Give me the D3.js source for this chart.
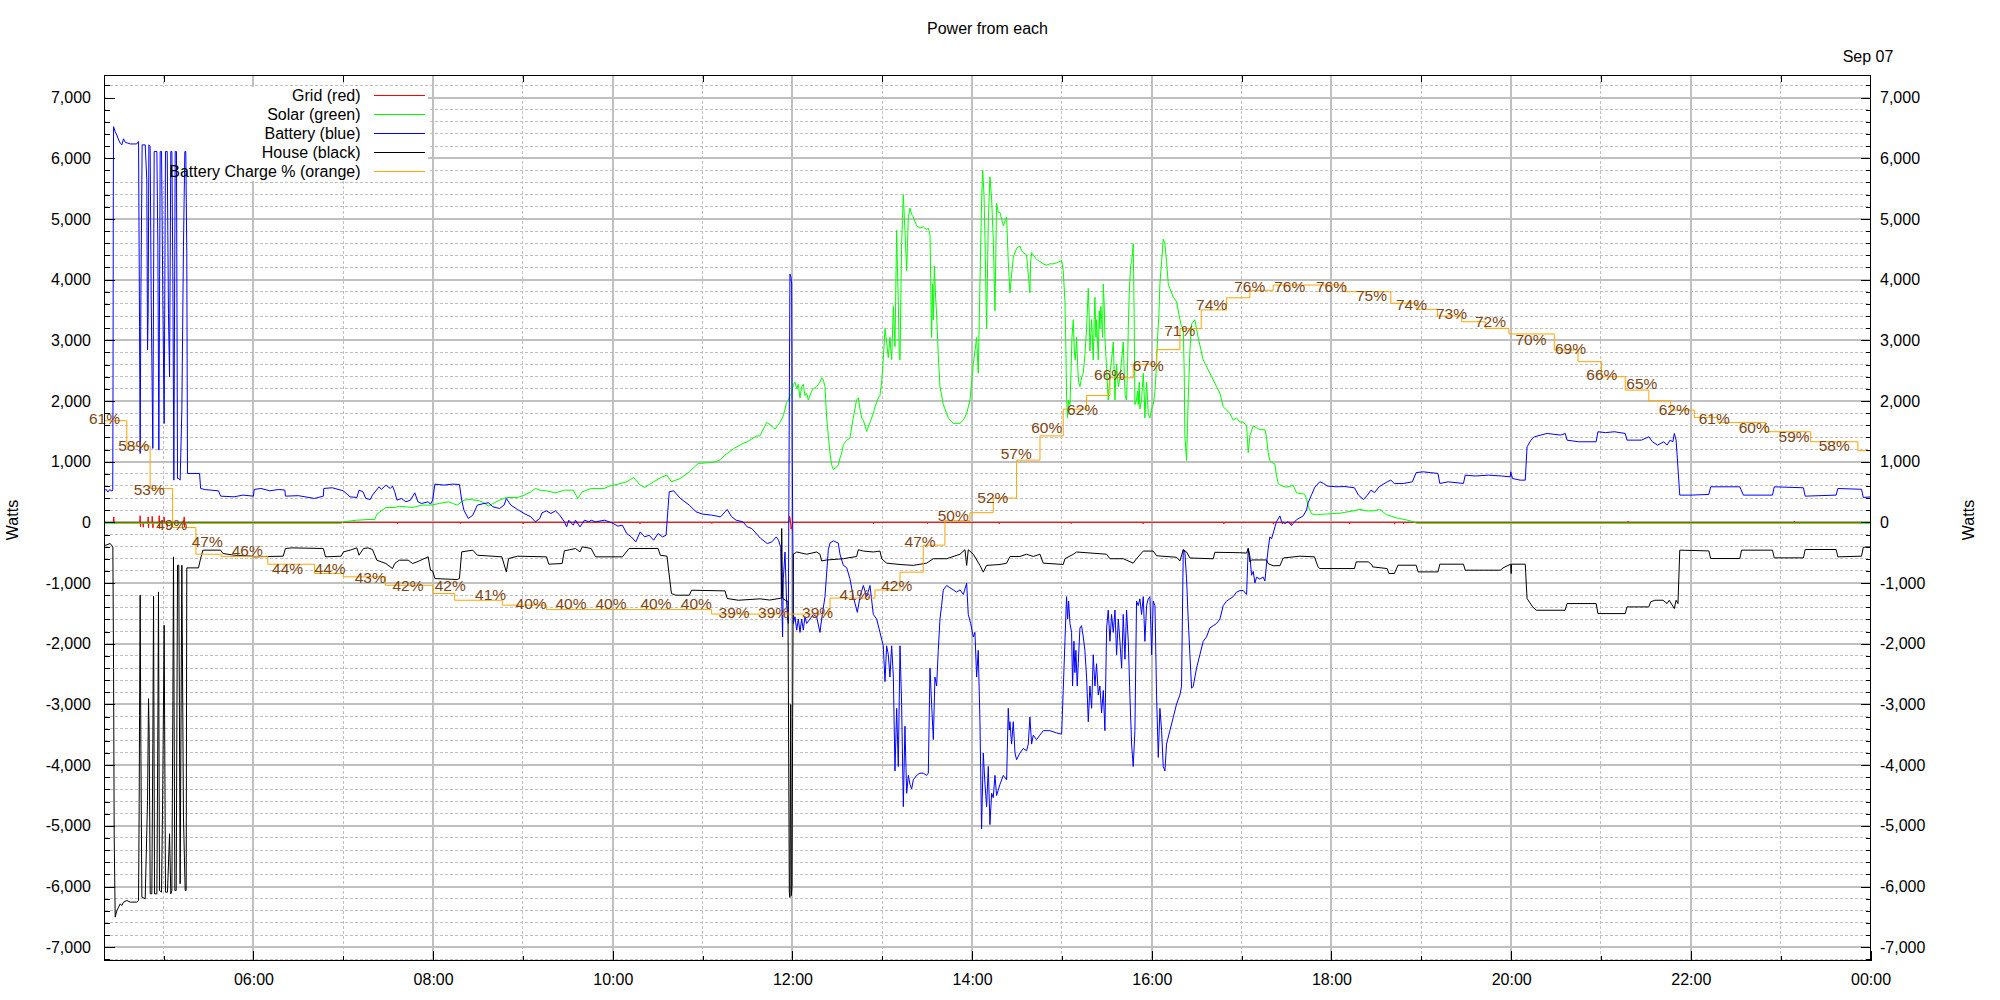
<!DOCTYPE html>
<html><head><meta charset="utf-8">
<script src="https://cdn.jsdelivr.net/npm/d3@7"></script>
<style>
html,body{margin:0;padding:0;background:#fff;}
svg{display:block;font-family:"Liberation Sans",Arial,Helvetica,sans-serif;}
</style></head><body>
<svg id="chart" width="2000" height="1000"></svg>
<script>
// ---------------- DATA (time in decimal hours, power in watts) ----------------
const chartTitle = "Power from each";
const dateLabel = "Sep 07";
const yAxisLabel = "Watts";
const seriesNames = ["Grid (red)", "Solar (green)", "Battery (blue)", "House (black)", "Battery Charge % (orange)"];
const xTickHours = [6, 8, 10, 12, 14, 16, 18, 20, 22, 24];
const xMinorHours = [5, 7, 9, 11, 13, 15, 17, 19, 21, 23];
const yTickValues = d3.range(-7000, 7001, 1000);
const yMinorValues = d3.range(-7200, 7201, 200).filter(v => v % 1000 !== 0);

const gridData = [[4.342,0],[4.44,0],[4.445,90],[4.45,0],[4.735,0],[4.739,110],[4.743,-70],[4.747,0],[4.77,0],[4.773,-80],[4.777,0],[4.825,0],[4.828,90],[4.832,-90],[4.836,0],[4.87,0],[4.873,100],[4.877,0],[4.881,-90],[4.886,0],[4.948,0],[4.951,110],[4.955,-100],[4.959,0],[5.003,0],[5.006,90],[5.01,0],[5.037,0],[5.04,-80],[5.044,0],[5.226,0],[5.229,90],[5.233,-80],[5.237,0],[7.6,0],[7.603,-25],[7.606,0],[8.3,0],[8.303,-20],[8.306,0],[9.0,0],[9.003,-25],[9.006,0],[9.6,0],[9.603,-20],[9.606,0],[10.3,0],[10.303,-25],[10.306,0],[11.1,0],[11.103,-20],[11.106,0],[11.96,0],[11.968,102],[11.975,60],[11.985,-114],[11.995,-60],[12.0,0],[12.9,0],[12.903,-25],[12.906,0],[13.5,0],[13.503,-20],[13.506,0],[14.3,0],[14.303,-25],[14.306,0],[15.1,0],[15.103,-20],[15.106,0],[15.9,0],[15.903,-25],[15.906,0],[16.8,0],[16.803,-25],[16.806,0],[17.35,0],[17.353,-30],[17.356,0],[17.45,0],[17.453,-25],[17.456,0],[17.55,0],[17.553,-30],[17.556,0],[18.2,0],[18.203,-25],[18.206,0],[18.7,0],[18.703,-30],[18.706,0],[18.8,0],[18.803,-25],[18.806,0],[21.3,0],[21.303,20],[21.306,0],[23.15,0],[23.153,20],[23.156,0],[24,0]];

const solarData = [[4.342,-16],[6.977,-16],[7.002,9],[7.151,36],[7.275,47],[7.35,47],[7.374,135],[7.474,245],[7.573,245],[7.623,267],[7.772,245],[7.871,284],[7.97,284],[8.07,311],[8.169,339],[8.268,284],[8.343,366],[8.417,377],[8.517,355],[8.566,322],[8.616,267],[8.666,311],[8.74,366],[8.79,394],[8.815,410],[8.939,410],[9.014,449],[9.088,503],[9.138,559],[9.187,531],[9.262,520],[9.361,487],[9.461,531],[9.56,531],[9.61,394],[9.66,503],[9.759,559],[9.908,559],[9.958,597],[10.057,630],[10.156,669],[10.231,740],[10.305,614],[10.355,575],[10.454,669],[10.554,751],[10.603,779],[10.653,669],[10.752,724],[10.852,833],[10.951,971],[11.05,982],[11.15,998],[11.2,1037],[11.249,1108],[11.348,1218],[11.448,1300],[11.497,1328],[11.597,1421],[11.639,1426],[11.676,1537],[11.713,1647],[11.75,1610],[11.787,1560],[11.806,1537],[11.824,1573],[11.861,1647],[11.898,1757],[11.917,1868],[11.935,1978],[11.954,2015],[11.972,2089],[11.991,2126],[12.01,2273],[12.028,2310],[12.047,2200],[12.065,2273],[12.084,2052],[12.102,2236],[12.121,2273],[12.139,2089],[12.158,2126],[12.176,2015],[12.195,2089],[12.213,2163],[12.232,2200],[12.269,2236],[12.306,2310],[12.325,2384],[12.343,2347],[12.362,2236],[12.381,1720],[12.399,1426],[12.418,1132],[12.436,948],[12.455,874],[12.492,911],[12.51,948],[12.529,1058],[12.547,1132],[12.566,1279],[12.584,1316],[12.603,1352],[12.64,1389],[12.659,1573],[12.677,1720],[12.714,2015],[12.733,2052],[12.752,1868],[12.77,1720],[12.789,1684],[12.826,1500],[12.844,1573],[12.863,1647],[12.9,1794],[12.919,1905],[12.937,1978],[12.956,2052],[12.974,2089],[12.993,2310],[13.011,2678],[13.03,3193],[13.048,2972],[13.067,2715],[13.085,3046],[13.104,2678],[13.123,3561],[13.141,2899],[13.16,4812],[13.167,4297],[13.178,3635],[13.189,2752],[13.197,2678],[13.215,4591],[13.234,5401],[13.252,4812],[13.271,4150],[13.29,5033],[13.308,5180],[13.327,5070],[13.345,5033],[13.382,4886],[13.419,4849],[13.456,4870],[13.493,4820],[13.512,4849],[13.531,4739],[13.549,3046],[13.56,3929],[13.568,3340],[13.579,4224],[13.594,3700],[13.605,3414],[13.623,2752],[13.642,2236],[13.679,1941],[13.735,1720],[13.79,1632],[13.865,1632],[13.902,1684],[13.939,1794],[13.976,2015],[13.994,2310],[14.013,2605],[14.031,2826],[14.05,3046],[14.068,2458],[14.087,3929],[14.105,5254],[14.117,5806],[14.132,5401],[14.143,4665],[14.161,3193],[14.18,4959],[14.198,5695],[14.217,5328],[14.235,4665],[14.254,3487],[14.272,5254],[14.291,5107],[14.31,5107],[14.347,4886],[14.384,5033],[14.402,4297],[14.421,3782],[14.439,4077],[14.458,4370],[14.495,4518],[14.532,4554],[14.55,4480],[14.569,4444],[14.606,4407],[14.643,3782],[14.651,4297],[14.662,4444],[14.68,4407],[14.717,4333],[14.754,4297],[14.792,4260],[14.829,4238],[14.866,4260],[14.903,4260],[14.94,4275],[14.977,4300],[14.996,4315],[15.014,4150],[15.033,3635],[15.044,2825],[15.051,2089],[15.062,1720],[15.074,2015],[15.089,1941],[15.1,2458],[15.111,3046],[15.126,3340],[15.137,2825],[15.148,2678],[15.163,3046],[15.174,2605],[15.185,2310],[15.2,2236],[15.218,2384],[15.237,2458],[15.255,2752],[15.274,3193],[15.293,3855],[15.304,3340],[15.311,2826],[15.33,3340],[15.348,2678],[15.359,3340],[15.367,3708],[15.378,3046],[15.385,3340],[15.396,2972],[15.404,2678],[15.415,3487],[15.422,3193],[15.433,3561],[15.441,3340],[15.452,3046],[15.46,3929],[15.471,3561],[15.478,3046],[15.489,2752],[15.497,2531],[15.515,2015],[15.534,2458],[15.552,2678],[15.571,2972],[15.582,2458],[15.59,2015],[15.601,2458],[15.608,2605],[15.627,2236],[15.645,2384],[15.664,2678],[15.682,2972],[15.693,2458],[15.704,2089],[15.719,2015],[15.73,2605],[15.738,3193],[15.749,3782],[15.764,4224],[15.775,4297],[15.786,4444],[15.793,4591],[15.804,3340],[15.812,1941],[15.83,2015],[15.841,2163],[15.849,1941],[15.86,2310],[15.867,1868],[15.886,2015],[15.905,2458],[15.916,2089],[15.923,1720],[15.942,2310],[15.953,2015],[15.96,1794],[15.979,1720],[15.998,1868],[16.016,1941],[16.035,2163],[16.053,2605],[16.064,3046],[16.079,3414],[16.09,3929],[16.101,4150],[16.109,4297],[16.12,4518],[16.127,4665],[16.146,4591],[16.164,4297],[16.183,3929],[16.201,3855],[16.239,3708],[16.276,3635],[16.313,3340],[16.331,3230],[16.35,3193],[16.361,2458],[16.368,1426],[16.387,1021],[16.405,2015],[16.424,2826],[16.443,3269],[16.479,3340],[16.516,3046],[16.572,2678],[16.646,2458],[16.721,2236],[16.758,2126],[16.795,1905],[16.869,1794],[16.906,1684],[16.943,1720],[16.98,1653],[17.018,1653],[17.055,1590],[17.073,1148],[17.092,1432],[17.129,1590],[17.166,1559],[17.203,1527],[17.259,1527],[17.277,1401],[17.296,1148],[17.314,1022],[17.333,991],[17.37,959],[17.388,770],[17.407,643],[17.426,611],[17.5,580],[17.574,611],[17.611,485],[17.685,470],[17.704,454],[17.722,391],[17.741,265],[17.778,139],[17.834,126],[17.945,139],[18.093,151],[18.241,189],[18.316,214],[18.39,189],[18.464,189],[18.538,214],[18.613,126],[18.724,75],[18.835,40],[18.909,12],[18.946,-16],[24,-16]];

const batteryData = [[4.342,520],[4.36,545],[4.38,500],[4.40,540],[4.425,515],[4.434,530],[4.437,2350],[4.44,5370],[4.443,6520],[4.46,6440],[4.48,6380],[4.50,6300],[4.52,6240],[4.535,6220],[4.553,6320],[4.575,6260],[4.60,6250],[4.63,6235],[4.70,6235],[4.721,6275],[4.732,3224],[4.739,1136],[4.747,3719],[4.761,6220],[4.795,6220],[4.813,5643],[4.821,2840],[4.828,3444],[4.836,6220],[4.85,6193],[4.862,3664],[4.88,1218],[4.895,6110],[4.925,6110],[4.936,4543],[4.947,1191],[4.962,6110],[4.977,6110],[4.991,3719],[5.006,1630],[5.021,6110],[5.04,6110],[5.054,3444],[5.066,2400],[5.08,6110],[5.092,6110],[5.103,3994],[5.114,696],[5.129,6110],[5.143,6110],[5.155,723],[5.169,723],[5.184,696],[5.203,1850],[5.221,4543],[5.236,6110],[5.247,6110],[5.258,4434],[5.266,806],[5.40,806],[5.412,559],[5.46,540],[5.61,520],[5.635,432],[5.784,421],[5.884,449],[6.0,432],[6.008,542],[6.082,559],[6.182,520],[6.281,542],[6.35,531],[6.356,432],[6.5,440],[6.679,394],[6.778,432],[6.783,559],[6.877,570],[7.0,520],[7.076,421],[7.151,410],[7.175,531],[7.22,503],[7.25,394],[7.30,377],[7.325,449],[7.399,586],[7.424,542],[7.474,614],[7.523,559],[7.548,597],[7.573,503],[7.598,366],[7.647,394],[7.697,339],[7.747,366],[7.796,487],[7.831,339],[7.871,311],[7.945,339],[7.97,300],[7.995,366],[8.02,630],[8.12,614],[8.22,630],[8.293,625],[8.318,366],[8.343,201],[8.392,64],[8.442,119],[8.492,284],[8.566,311],[8.616,322],[8.666,256],[8.74,229],[8.79,284],[8.815,394],[8.865,284],[8.94,212],[9.014,146],[9.088,91],[9.138,9],[9.187,64],[9.212,157],[9.262,190],[9.312,146],[9.361,190],[9.41,119],[9.461,9],[9.486,-74],[9.51,36],[9.56,-46],[9.585,36],[9.635,-74],[9.685,36],[9.734,9],[9.759,36],[9.808,9],[9.908,36],[9.958,9],[10.007,-19],[10.057,-63],[10.107,-46],[10.156,-184],[10.206,-239],[10.256,-322],[10.305,-157],[10.355,-239],[10.405,-212],[10.454,-294],[10.504,-184],[10.554,-239],[10.593,-212],[10.628,503],[10.678,520],[10.752,394],[10.852,284],[10.926,174],[11.0,136],[11.1,119],[11.2,91],[11.249,174],[11.274,212],[11.323,91],[11.373,36],[11.448,9],[11.497,-74],[11.547,-102],[11.647,-266],[11.72,-349],[11.77,-322],[11.82,-239],[11.845,-294],[11.869,-414],[11.88,-1224],[11.89,-1890],[11.898,-929],[11.917,-488],[11.936,-1371],[11.954,-1666],[11.965,2015],[11.972,4091],[11.984,4041],[11.991,3929],[11.998,1058],[12.01,-1666],[12.028,-1555],[12.047,-1776],[12.065,-1592],[12.084,-1813],[12.102,-1592],[12.121,-1776],[12.139,-1555],[12.158,-1666],[12.195,-1592],[12.232,-1518],[12.269,-1555],[12.306,-1813],[12.325,-1592],[12.362,-1224],[12.399,-451],[12.418,-341],[12.455,-304],[12.51,-341],[12.529,-524],[12.566,-709],[12.603,-745],[12.64,-929],[12.677,-1224],[12.722,-1482],[12.752,-1224],[12.789,-1040],[12.826,-1224],[12.863,-1040],[12.9,-1518],[12.937,-1592],[12.974,-1813],[13.011,-2034],[13.03,-2623],[13.048,-2034],[13.067,-2181],[13.085,-2549],[13.104,-2034],[13.123,-2549],[13.141,-4095],[13.16,-3064],[13.178,-4022],[13.197,-2034],[13.215,-3000],[13.234,-4684],[13.252,-3359],[13.271,-4464],[13.29,-4169],[13.308,-4316],[13.327,-4390],[13.345,-4242],[13.382,-4169],[13.419,-4132],[13.456,-4132],[13.493,-4169],[13.512,-4132],[13.531,-2402],[13.549,-3000],[13.568,-3579],[13.586,-2549],[13.605,-2696],[13.623,-2108],[13.642,-1592],[13.66,-1371],[13.679,-1113],[13.716,-1040],[13.753,-1077],[13.79,-1113],[13.827,-1150],[13.865,-1113],[13.902,-1187],[13.939,-1003],[13.957,-1518],[13.983,-1666],[14.013,-1887],[14.031,-1813],[14.05,-2549],[14.068,-2108],[14.087,-3285],[14.105,-5052],[14.124,-3800],[14.143,-4316],[14.161,-4684],[14.18,-4022],[14.198,-4979],[14.217,-4464],[14.235,-4537],[14.254,-4169],[14.272,-4500],[14.31,-4316],[14.347,-4169],[14.384,-4242],[14.402,-3064],[14.413,-3420],[14.421,-3285],[14.439,-3653],[14.458,-3285],[14.477,-3800],[14.495,-3910],[14.532,-3800],[14.569,-3726],[14.606,-3763],[14.625,-3653],[14.643,-3206],[14.662,-3653],[14.68,-3506],[14.717,-3579],[14.754,-3506],[14.792,-3432],[14.866,-3432],[14.94,-3469],[14.996,-3490],[15.014,-2770],[15.033,-1960],[15.051,-1224],[15.063,-1592],[15.074,-1298],[15.089,-1666],[15.107,-1813],[15.118,-2696],[15.133,-1960],[15.144,-2475],[15.155,-2108],[15.17,-2696],[15.181,-2329],[15.2,-1740],[15.218,-1703],[15.237,-1887],[15.255,-2108],[15.274,-2549],[15.293,-3285],[15.311,-2696],[15.33,-3064],[15.348,-2181],[15.367,-2696],[15.385,-2329],[15.404,-2843],[15.422,-2696],[15.441,-3138],[15.46,-2770],[15.478,-3432],[15.497,-1740],[15.515,-1445],[15.534,-1960],[15.552,-1518],[15.571,-1813],[15.59,-1445],[15.608,-2181],[15.627,-1592],[15.645,-1960],[15.664,-2402],[15.682,-1518],[15.701,-2255],[15.719,-1445],[15.738,-1960],[15.756,-2843],[15.775,-3653],[15.793,-4022],[15.812,-3432],[15.83,-1298],[15.849,-1371],[15.867,-1260],[15.886,-1518],[15.905,-1224],[15.923,-1960],[15.942,-1371],[15.96,-1260],[15.979,-1224],[15.998,-2181],[16.016,-1298],[16.035,-1371],[16.053,-2843],[16.072,-3873],[16.09,-3064],[16.109,-3432],[16.127,-4022],[16.146,-4095],[16.164,-3653],[16.201,-3432],[16.239,-3211],[16.276,-2991],[16.313,-2843],[16.331,-2700],[16.35,-451],[16.368,-488],[16.387,-929],[16.405,-1592],[16.424,-2181],[16.443,-2733],[16.461,-2700],[16.498,-2402],[16.535,-2181],[16.572,-1960],[16.609,-1887],[16.646,-1740],[16.684,-1703],[16.721,-1666],[16.758,-1592],[16.795,-1371],[16.832,-1298],[16.869,-1260],[16.906,-1224],[16.943,-1150],[16.98,-1124],[17.018,-1124],[17.055,-1187],[17.073,-430],[17.092,-556],[17.11,-871],[17.129,-808],[17.148,-998],[17.166,-903],[17.203,-934],[17.24,-903],[17.259,-966],[17.277,-682],[17.296,-430],[17.314,-240],[17.333,-272],[17.351,-177],[17.388,12],[17.426,107],[17.444,12],[17.481,-19],[17.518,12],[17.555,-51],[17.574,-19],[17.611,44],[17.648,75],[17.685,107],[17.722,202],[17.741,328],[17.778,454],[17.815,580],[17.87,670],[17.911,641],[17.95,600],[18.05,586],[18.15,590],[18.255,570],[18.30,450],[18.356,377],[18.40,449],[18.44,531],[18.48,490],[18.53,586],[18.62,668],[18.66,696],[18.70,641],[18.80,641],[18.90,668],[18.943,820],[19.02,833],[19.10,820],[19.186,806],[19.206,641],[19.3,668],[19.469,641],[19.489,778],[19.6,764],[19.75,778],[19.894,764],[19.99,750],[19.995,833],[20.015,723],[20.10,696],[20.157,696],[20.177,1245],[20.22,1355],[20.258,1410],[20.4,1465],[20.55,1438],[20.602,1465],[20.622,1355],[20.75,1328],[20.946,1328],[20.966,1493],[21.05,1479],[21.15,1493],[21.27,1465],[21.29,1355],[21.45,1355],[21.533,1410],[21.573,1328],[21.63,1273],[21.70,1328],[21.735,1273],[21.77,1355],[21.80,1328],[21.816,1465],[21.836,1355],[21.877,449],[22.0,449],[22.2,460],[22.221,586],[22.545,586],[22.585,449],[22.909,449],[22.929,586],[23.253,570],[23.273,432],[23.617,449],[23.637,558],[23.9,545],[23.92,410],[24,420]];

const houseData = [[4.342,-380],[4.357,-376],[4.405,-348],[4.435,-403],[4.443,-2410],[4.45,-5186],[4.461,-6505],[4.48,-6395],[4.517,-6285],[4.535,-6312],[4.554,-6257],[4.591,-6230],[4.628,-6257],[4.702,-6257],[4.721,-6230],[4.728,-4636],[4.732,-3179],[4.739,-1200],[4.747,-3729],[4.758,-6175],[4.795,-6203],[4.821,-4581],[4.832,-2904],[4.839,-3482],[4.851,-6120],[4.869,-6120],[4.88,-3646],[4.888,-1217],[4.899,-6120],[4.925,-6120],[4.936,-3372],[4.943,-1146],[4.954,-6065],[4.977,-6093],[4.991,-4306],[5.006,-1695],[5.021,-6093],[5.043,-6093],[5.066,-5131],[5.08,-6120],[5.092,-6065],[5.103,-2932],[5.11,-568],[5.125,-6065],[5.14,-6065],[5.155,-706],[5.169,-706],[5.184,-5955],[5.203,-706],[5.221,-4856],[5.24,-6065],[5.251,-6065],[5.258,-750],[5.388,-750],[5.412,-596],[5.437,-458],[5.635,-458],[5.66,-513],[5.784,-541],[5.983,-557],[6.008,-568],[6.331,-557],[6.356,-431],[6.43,-420],[6.778,-431],[6.803,-568],[6.977,-557],[7.002,-486],[7.076,-458],[7.151,-420],[7.175,-541],[7.225,-431],[7.275,-420],[7.325,-447],[7.374,-623],[7.474,-678],[7.548,-761],[7.573,-678],[7.623,-623],[7.722,-623],[7.772,-678],[7.821,-651],[7.945,-568],[7.97,-788],[7.995,-799],[8.02,-926],[8.268,-942],[8.293,-926],[8.318,-486],[8.442,-458],[8.492,-541],[8.765,-568],[8.815,-816],[8.84,-596],[8.94,-557],[9.262,-568],[9.287,-689],[9.436,-678],[9.461,-469],[9.585,-431],[9.635,-486],[9.66,-403],[9.759,-431],[9.808,-568],[10.107,-568],[10.181,-431],[10.504,-431],[10.529,-541],[10.603,-557],[10.653,-1173],[10.70,-1200],[10.852,-1200],[10.877,-1118],[11.249,-1129],[11.274,-1255],[11.398,-1283],[11.64,-1260],[11.746,-1280],[11.87,-1250],[11.875,-1250],[11.88,-100],[11.89,-1250],[11.936,-1298],[11.95,-1300],[11.965,-6100],[11.972,-6180],[11.98,-3000],[11.987,-6150],[11.995,-6000],[12.002,-3212],[12.01,-525],[12.047,-488],[12.158,-525],[12.269,-488],[12.306,-525],[12.325,-635],[12.381,-620],[12.566,-599],[12.714,-562],[12.733,-451],[12.789,-473],[12.9,-488],[12.974,-473],[12.993,-599],[13.048,-672],[13.197,-694],[13.345,-709],[13.493,-672],[13.568,-599],[13.716,-599],[13.865,-525],[13.92,-451],[13.939,-709],[13.957,-451],[14.013,-525],[14.087,-709],[14.124,-820],[14.161,-709],[14.31,-694],[14.384,-672],[14.421,-562],[14.532,-562],[14.606,-525],[14.68,-562],[14.755,-525],[14.792,-672],[15.014,-694],[15.033,-599],[15.126,-525],[15.163,-488],[15.497,-525],[15.534,-599],[15.682,-599],[15.793,-672],[15.83,-599],[15.905,-473],[16.016,-473],[16.053,-550],[16.276,-575],[16.313,-635],[16.35,-451],[16.387,-488],[16.424,-587],[16.684,-600],[16.702,-493],[16.98,-500],[17.055,-506],[17.073,-430],[17.092,-650],[17.11,-619],[17.277,-619],[17.296,-682],[17.351,-714],[17.426,-714],[17.463,-587],[17.648,-557],[17.81,-568],[17.85,-733],[17.87,-761],[18.255,-761],[18.276,-651],[18.41,-651],[18.45,-700],[18.457,-733],[18.619,-761],[18.64,-843],[18.70,-843],[18.74,-706],[18.943,-706],[18.964,-816],[19.186,-816],[19.206,-689],[19.469,-689],[19.489,-788],[19.88,-788],[19.91,-750],[19.995,-689],[20.0,-843],[20.005,-689],[20.157,-689],[20.177,-1255],[20.24,-1393],[20.28,-1448],[20.6,-1448],[20.622,-1338],[20.946,-1338],[20.966,-1503],[21.27,-1503],[21.29,-1393],[21.533,-1393],[21.553,-1310],[21.60,-1283],[21.69,-1283],[21.735,-1338],[21.76,-1283],[21.816,-1420],[21.836,-1283],[21.857,-1338],[21.877,-458],[22.2,-470],[22.221,-596],[22.545,-596],[22.565,-458],[22.909,-458],[22.929,-585],[23.253,-585],[23.273,-447],[23.617,-447],[23.637,-568],[23.9,-557],[23.92,-410],[24,-403]];

// Battery state of charge (%), stepped
const chargeData = [[4.342,60.77],[4.59,57.89],[4.85,53.08],[5.10,48.63],[5.36,45.6],[5.64,45.36],[6.16,44.46],[6.68,43.41],[7.0,43.03],[7.47,42.07],[8.0,41.13],[8.24,40.37],[8.77,39.81],[9.26,39.31],[11.10,38.8],[12.418,40.62],[12.918,41.54],[13.197,43.56],[13.456,46.63],[13.697,49.41],[13.976,50.32],[14.235,51.98],[14.495,56.29],[14.755,59.05],[15.014,62.09],[15.274,63.63],[15.534,65.65],[15.793,67.18],[16.053,68.85],[16.313,71.24],[16.55,73.36],[16.832,74.74],[17.092,75.59],[17.351,76.19],[18.15,75.43],[18.66,74.12],[18.943,73.43],[19.18,72.67],[19.449,72.02],[19.712,71.27],[19.975,70.63],[20.48,68.81],[20.744,67.48],[21.007,65.77],[21.27,64.25],[21.533,63.04],[21.776,61.98],[22.039,61.15],[22.302,60.58],[22.828,59.52],[23.334,58.38],[23.86,57.36],[24,57.36]];

// Percent labels printed along the charge line: [time, percent]
const chargeLabels = [[4.342,61],[4.667,58],[4.84,53],[5.09,49],[5.485,47],[5.93,46],[6.38,44],[6.853,44],[7.30,43],[7.72,42],[8.19,42],[8.64,41],[9.09,40],[9.535,40],[9.98,40],[10.48,40],[10.93,40],[11.35,39],[11.79,39],[12.28,39],[12.695,41],[13.16,42],[13.42,47],[13.79,50],[14.23,52],[14.49,57],[14.83,60],[15.23,62],[15.53,66],[15.96,67],[16.31,71],[16.665,74],[17.09,76],[17.535,76],[18.0,76],[18.445,75],[18.89,74],[19.335,73],[19.77,72],[20.22,70],[20.66,69],[21.01,66],[21.455,65],[21.815,62],[22.26,61],[22.705,60],[23.15,59],[23.596,58]];

// ---------------- STYLE / LAYOUT ----------------
const colors = {grid:"#ff0000", solar:"#00ff00", battery:"#0000ff", house:"#000000", charge:"#ffa500", label:"#7d4514", gridline:"#c0c0c0"};
const legendColors = [colors.grid, colors.solar, colors.battery, colors.house, colors.charge];
const L = 104.5, R = 1870.5, T = 75.5, B = 960.5;
const FONT = 16;

const svg = d3.select("#chart");
const x = d3.scaleLinear().domain([4.342, 24]).range([L, R]);
const y = d3.scaleLinear().domain([-7219, 7363]).range([B, T]);
// percent mapped onto the watt axis: W = 145 * (pct - 49.22)
const PCT_K = 145, PCT_0 = 49.22;
const yPct = d3.scaleLinear().domain(y.domain().map(w => w / PCT_K + PCT_0)).range([B, T]);

const snap = v => Math.round(v - 0.5) + 0.5;

// grid lines
const gGrid = svg.append("g").attr("shape-rendering", "crispEdges");
gGrid.selectAll("line.ymin").data(yMinorValues).join("line")
  .attr("x1", L).attr("x2", R).attr("y1", d => snap(y(d))).attr("y2", d => snap(y(d)))
  .attr("stroke", colors.gridline).attr("stroke-width", 1).attr("stroke-dasharray", "3,2");
gGrid.selectAll("line.xmin").data(xMinorHours).join("line")
  .attr("y1", T).attr("y2", B).attr("x1", d => snap(x(d))).attr("x2", d => snap(x(d)))
  .attr("stroke", colors.gridline).attr("stroke-width", 1).attr("stroke-dasharray", "3,2");
gGrid.selectAll("line.ymaj").data(yTickValues).join("line")
  .attr("x1", L).attr("x2", R).attr("y1", d => Math.round(y(d))).attr("y2", d => Math.round(y(d)))
  .attr("stroke", colors.gridline).attr("stroke-width", 2);
gGrid.selectAll("line.xmaj").data(xTickHours.filter(h => h < 24)).join("line")
  .attr("y1", T).attr("y2", B).attr("x1", d => Math.round(x(d))).attr("x2", d => Math.round(x(d)))
  .attr("stroke", colors.gridline).attr("stroke-width", 2);

// legend background (hides grid)
svg.append("rect").attr("x", 106).attr("y", 87).attr("width", 322).attr("height", 94).attr("fill", "#fff");

// clip
svg.append("clipPath").attr("id", "plotclip").append("rect")
  .attr("x", L).attr("y", T).attr("width", R - L).attr("height", B - T);
const gData = svg.append("g").attr("clip-path", "url(#plotclip)");

const line = d3.line().x(d => x(d[0])).y(d => y(d[1]));
const stepLine = d3.line().curve(d3.curveStepAfter).x(d => x(d[0])).y(d => yPct(d[1]));

[[gridData, colors.grid], [solarData, colors.solar], [batteryData, colors.battery], [houseData, colors.house]]
  .forEach(([data, c]) => {
    gData.append("path").datum(data).attr("d", line)
      .attr("fill", "none").attr("stroke", c).attr("stroke-width", 1).attr("stroke-linejoin", "miter");
  });
gData.append("path").datum(chargeData).attr("d", stepLine)
  .attr("fill", "none").attr("stroke", colors.charge).attr("stroke-width", 1);

// percent labels
svg.append("g").selectAll("text").data(chargeLabels).join("text")
  .attr("x", d => x(d[0])).attr("y", d => yPct(d[1])).attr("dy", "0.35em")
  .attr("text-anchor", "middle").attr("font-size", 15.5).attr("fill", colors.label)
  .text(d => d[1] + "%");

// border
svg.append("rect").attr("x", L).attr("y", T).attr("width", R - L).attr("height", B - T)
  .attr("fill", "none").attr("stroke", "#000").attr("stroke-width", 1).attr("shape-rendering", "crispEdges");

// axes
const fmtW = d => (d < 0 ? "-" : "") + d3.format(",")(Math.abs(d));
const fmtH = d => String(d % 24).padStart(2, "0") + ":00";
function styleAxis(g) {
  g.select(".domain").remove();
  g.attr("font-family", null).attr("font-size", FONT);
  g.selectAll("line").attr("stroke", "#000").attr("shape-rendering", "crispEdges");
  g.selectAll("text").attr("fill", "#000");
}
svg.append("g").attr("transform", `translate(${L},0)`)
  .call(d3.axisLeft(y).tickValues(yTickValues).tickSize(-10).tickPadding(13.5).tickFormat(fmtW)).call(styleAxis);
svg.append("g").attr("transform", `translate(${L},0)`)
  .call(d3.axisLeft(y).tickValues(yMinorValues).tickSize(-5).tickFormat("")).call(styleAxis);
svg.append("g").attr("transform", `translate(${R},0)`)
  .call(d3.axisRight(y).tickValues(yTickValues).tickSize(-10).tickPadding(9.5).tickFormat(fmtW)).call(styleAxis);
svg.append("g").attr("transform", `translate(${R},0)`)
  .call(d3.axisRight(y).tickValues(yMinorValues).tickSize(-5).tickFormat("")).call(styleAxis);
svg.append("g").attr("transform", `translate(0,${B})`)
  .call(d3.axisBottom(x).tickValues(xTickHours).tickSize(-10).tickPadding(13.5).tickFormat(fmtH)).call(styleAxis);
svg.append("g").attr("transform", `translate(0,${B})`)
  .call(d3.axisBottom(x).tickValues(xMinorHours).tickSize(-5).tickFormat("")).call(styleAxis);
svg.append("g").attr("transform", `translate(0,${T})`)
  .call(d3.axisTop(x).tickValues(xMinorHours).tickSize(-6).tickFormat("")).call(styleAxis);

// legend entries
const gLeg = svg.append("g").attr("font-size", FONT);
seriesNames.forEach((name, i) => {
  const ly = 95.5 + i * 19;
  gLeg.append("text").attr("x", 360.5).attr("y", ly).attr("dy", "0.35em")
    .attr("text-anchor", "end").attr("fill", "#000").text(name);
  gLeg.append("line").attr("x1", 374).attr("x2", 425).attr("y1", snap(ly)).attr("y2", snap(ly))
    .attr("stroke", legendColors[i]).attr("stroke-width", 1);
});

// titles
svg.append("text").attr("x", (L + R) / 2).attr("y", 34).attr("text-anchor", "middle")
  .attr("font-size", FONT).text(chartTitle);
svg.append("text").attr("x", 1868).attr("y", 62).attr("text-anchor", "middle")
  .attr("font-size", FONT).text(dateLabel);
svg.append("text").attr("transform", "translate(18,520) rotate(-90)").attr("text-anchor", "middle")
  .attr("font-size", FONT).text(yAxisLabel);
svg.append("text").attr("transform", "translate(1974,520) rotate(-90)").attr("text-anchor", "middle")
  .attr("font-size", FONT).text(yAxisLabel);
</script>
</body></html>
